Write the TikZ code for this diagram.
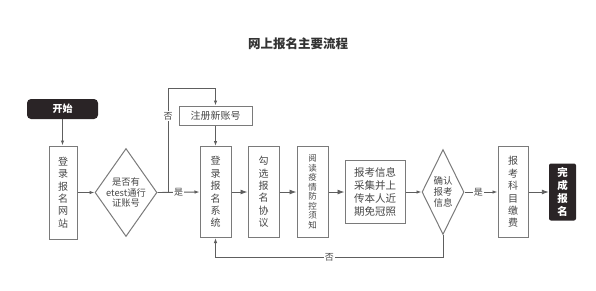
\documentclass[tikz,border=0pt]{standalone}
\usepackage{fontspec}
\setmainfont{Noto Sans CJK SC}
\usetikzlibrary{shapes.geometric,arrows.meta}
\definecolor{ln}{HTML}{5E5E5E}
\definecolor{bd}{HTML}{7A7A7A}
\definecolor{tx}{HTML}{474747}
\definecolor{dk}{HTML}{2A2426}
\begin{document}
\begin{tikzpicture}[x=1pt,y=-1pt,
  box/.style={draw=bd,line width=1pt,fill=white,inner sep=0pt,align=center,text=tx,font=\fontsize{10}{12.4}\selectfont},
  dia/.style={draw=bd,line width=1pt,diamond,inner sep=-2pt,align=center,text=tx,font=\fontsize{9.3}{10.6}\selectfont},
  term/.style={fill=dk,rounded corners=4pt,inner sep=0pt,align=center,text=white,font=\fontsize{10}{12.6}\selectfont\bfseries},
  lbl/.style={fill=white,inner sep=1pt,text=tx,font=\fontsize{9}{10}\selectfont},
  arrs/.style={draw=ln,line width=0.9pt,-{Latex[length=5pt,width=3.5pt]}},
  arrb/.style={draw=ln,line width=0.9pt,-{Latex[length=7pt,width=5pt]}},
  ttl/.style={text=black!80,font=\fontsize{12.5}{14}\selectfont\bfseries}]
\useasboundingbox (0,0) rectangle (596,290);
\node[ttl] (title) at (298,44) {网上报名主要流程};
\node[term,minimum width=71,minimum height=20] (start) at (62.5,109) {开始};
\node[box,minimum width=28,minimum height=93] (b1) at (63,192.5) {登\\录\\报\\名\\网\\站};
\node[dia,minimum width=62,minimum height=88,aspect=0.7] (d1) at (126,192.5) {是否有\\etest通行\\证账号};
\node[box,minimum width=73,minimum height=19] (reg) at (215.5,115.5) {注册新账号};
\node[box,minimum width=31,minimum height=91] (b2) at (215.5,192) {登\\录\\报\\名\\系\\统};
\node[box,minimum width=31,minimum height=91] (b3) at (263.5,192) {勾\\选\\报\\名\\协\\议};
\node[box,minimum width=31,minimum height=91,font=\fontsize{8.5}{9.5}\selectfont] (b4) at (312.5,192) {阅\\读\\疫\\情\\防\\控\\须\\知};
\node[box,minimum width=60,minimum height=63,font=\fontsize{10.5}{13}\selectfont] (b5) at (375,192) {报考信息\\采集并上\\传本人近\\期免冠照};
\node[dia,minimum width=42,minimum height=85,aspect=0.5,inner sep=0pt,font=\fontsize{9.5}{11.2}\selectfont] (d2) at (443,192) {确认\\报考\\信息};
\node[box,minimum width=30,minimum height=91] (b6) at (513,192) {报\\考\\科\\目\\缴\\费};
\node[term,minimum width=27,minimum height=57,rounded corners=2pt,font=\fontsize{10.5}{13}\selectfont\bfseries] (end) at (562.5,192) {完\\成\\报\\名};
\coordinate (sp) at (168,192);
\coordinate (top) at (168,88);
\draw[arrs] (start.south) -- (start.south |- b1.north);
\draw[arrs] (b1.east |- d1.east) -- (d1.west);
\draw[arrs] (d1.east) -- node[lbl,pos=0.5]{是} (b2.west);
\draw[arrs] (sp) -- node[lbl,pos=0.73]{否} (top) -| (reg.north);
\draw[arrs] (reg.south) -- (b2.north);
\draw[arrb] (b2) -- (b3);
\draw[arrb] (b3) -- (b4);
\draw[arrb] (b4) -- (b5);
\draw[arrs] (b5) -- (d2);
\draw[arrs] (d2) -- node[lbl,pos=0.42]{是} (b6);
\draw[arrb] (b6) -- (end);
\draw[arrs] (d2.south) -- ++(0,22) -| node[lbl,pos=0.25]{否} (b2.south);
\end{tikzpicture}
\end{document}
